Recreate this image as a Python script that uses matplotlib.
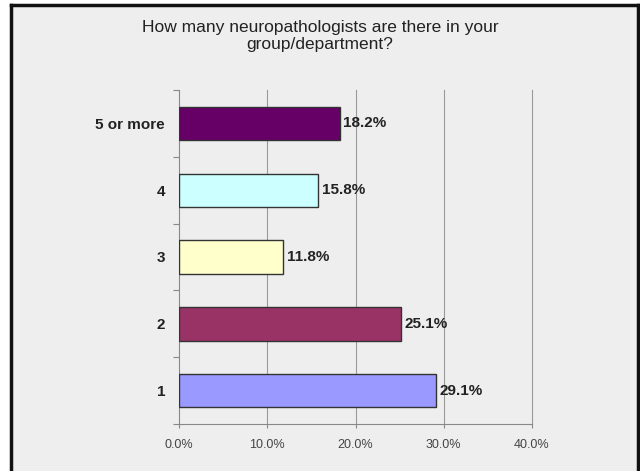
import matplotlib.pyplot as plt
from matplotlib.patches import Rectangle
from matplotlib.ticker import FuncFormatter, FixedLocator

categories = ["1", "2", "3", "4", "5 or more"]
percentages = [29.1, 25.1, 11.8, 15.8, 18.2]
bar_colors = ["#9999ff", "#993366", "#ffffcc", "#ccffff", "#660066"]
x_ticks = [0, 10, 20, 30, 40]

plt.rcParams["font.family"] = ["Liberation Sans", "DejaVu Sans"]

fig = plt.figure(figsize=(6.4, 4.71), dpi=100)
fig.patch.set_facecolor("white")

# grey panel with the dark frame (no bottom edge visible)
W, H = 640, 471
fig.patches.append(Rectangle((11 / W, 0), 627 / W, 466 / H, transform=fig.transFigure,
                             facecolor="#eeeeee", edgecolor="none", zorder=-2))
for xs, ys in [([11, 11], [0, 466]), ([11, 638], [466, 466]), ([638, 638], [466, 0])]:
    fig.lines.append(plt.Line2D([x / W for x in xs], [y / H for y in ys],
                                transform=fig.transFigure, color="#111111",
                                linewidth=2.5, zorder=-1))

ax = fig.add_axes([179 / W, 1 - 424 / H, (532 - 179) / W, (424 - 90) / H])
ax.set_zorder(2)
ax.set_facecolor("#eeeeee")

pos = list(range(len(categories)))
ax.barh(pos, percentages, height=0.5, color=bar_colors, edgecolor="#333333",
        linewidth=1, zorder=3)
for p, v in zip(pos, percentages):
    ax.text(v + 0.4, p, f"{v:.1f}%", va="center", ha="left", fontsize=11,
            fontweight="bold", color="#222222", zorder=4)

ax.set_xlim(0, 40)
ax.set_ylim(-0.5, len(categories) - 0.5)
ax.set_xticks(x_ticks)
ax.xaxis.set_major_formatter(FuncFormatter(lambda v, _: f"{v:.1f}%"))
for t in x_ticks[1:]:
    ax.axvline(t, color="#999999", linewidth=0.8, zorder=0, clip_on=False)

ax.yaxis.set_major_locator(FixedLocator([p - 0.5 for p in pos] + [len(pos) - 0.5]))
ax.set_yticklabels([])
ax.yaxis.set_minor_locator(FixedLocator(pos))
ax.set_yticklabels(categories, minor=True, fontsize=11, fontweight="bold", color="#222222")
ax.tick_params(axis="y", which="minor", length=0, pad=10)
ax.tick_params(axis="y", which="major", length=4, color="#888888")
ax.tick_params(axis="x", length=3, color="#888888", labelsize=9, labelcolor="#444444", pad=8)

for side in ["top", "right"]:
    ax.spines[side].set_visible(False)
for side in ["left", "bottom"]:
    ax.spines[side].set_color("#888888")
    ax.spines[side].set_linewidth(0.8)

fig.text(0.5, 1 - 36 / H, "How many neuropathologists are there in your\ngroup/department?",
         ha="center", va="center", fontsize=12.5, color="#222222", linespacing=1.2)

fig.savefig("out.png", dpi=100, facecolor=fig.get_facecolor())
